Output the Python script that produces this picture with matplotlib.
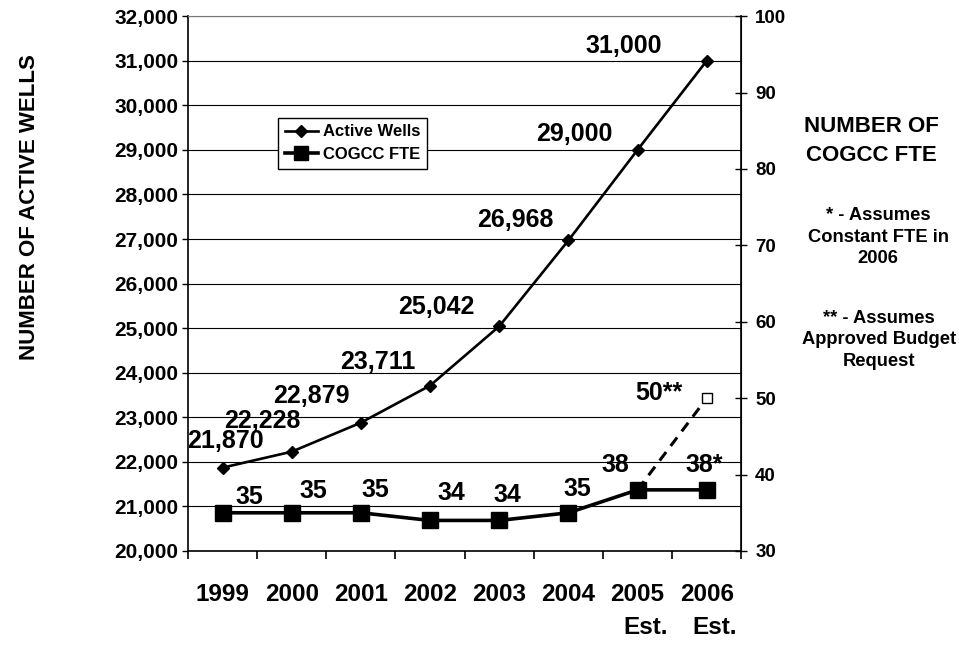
import matplotlib
matplotlib.use("Agg")
import matplotlib.pyplot as plt
from matplotlib.ticker import FuncFormatter, FixedLocator

plt.rcParams['font.family'] = ['Liberation Sans', 'DejaVu Sans']
plt.rcParams['font.weight'] = 'bold'

# ---- data ----
years = ["1999", "2000", "2001", "2002", "2003", "2004", "2005", "2006"]
estimated = [False, False, False, False, False, False, True, True]
active_wells = [21870, 22228, 22879, 23711, 25042, 26968, 29000, 31000]
well_labels = ["21,870", "22,228", "22,879", "23,711", "25,042", "26,968", "29,000", "31,000"]
fte = [35, 35, 35, 34, 34, 35, 38, 38]
fte_labels = ["35", "35", "35", "34", "34", "35", "38", "38*"]
budget_years = ["2005", "2006"]
budget_fte = [38, 50]
budget_label = "50**"

# label offsets in pixels (dx, dy)
well_offsets = [(3, 27), (-29, 31), (-50, 27), (-52, 24), (-63, 19), (-53, 20), (-63, 16), (-83, 15)]
fte_offsets = [(27, 16), (22, 22), (14, 23), (21, 27), (8, 25), (9, 24), (-22, 25), (-2, 25)]
budget_offset = (-48, 5)

fig = plt.figure(figsize=(9.59, 6.47), dpi=100)
ax = fig.add_axes([0.196, 0.1484, 0.773 - 0.196, 0.975 - 0.1484])
ax2 = ax.twinx()

x = list(range(len(years)))
xb = [years.index(y) for y in budget_years]

# horizontal grid on the left scale
ax.set_ylim(20000, 32000)
ax.set_yticks(range(20000, 32001, 1000))
ax.yaxis.set_major_formatter(FuncFormatter(lambda v, p: f"{int(v):,}"))
ax.grid(axis='y', color='black', linewidth=0.8)
ax.set_axisbelow(True)
ax.set_xlim(-0.5, len(years) - 0.5)

ax2.set_ylim(30, 100)
ax2.set_yticks(range(30, 101, 10))

# active wells
ax.plot(x, active_wells, color='black', linewidth=1.9, marker='D', markersize=6.5,
        zorder=3)
for xi, v, lab, (dx, dy) in zip(x, active_wells, well_labels, well_offsets):
    ax.annotate(lab, (xi, v), xytext=(dx, dy), textcoords='offset pixels',
                ha='center', va='center', fontsize=18, fontweight='bold')

# FTE
ax2.plot(xb, budget_fte, color='black', linewidth=2.2, linestyle=(0, (3.5, 2.5)), zorder=2)
ax2.plot([xb[-1]], [budget_fte[-1]], linestyle='none', marker='s', markersize=7,
         markerfacecolor='white', markeredgecolor='black', markeredgewidth=1, zorder=4)
ax2.plot(x, fte, color='black', linewidth=2.6, marker='s', markersize=11.5, zorder=3)
for xi, v, lab, (dx, dy) in zip(x, fte, fte_labels, fte_offsets):
    ax2.annotate(lab, (xi, v), xytext=(dx, dy), textcoords='offset pixels',
                 ha='center', va='center', fontsize=18, fontweight='bold')
ax2.annotate(budget_label, (xb[-1], budget_fte[-1]), xytext=budget_offset,
             textcoords='offset pixels', ha='center', va='center',
             fontsize=18, fontweight='bold')

# legend
h1 = plt.Line2D([], [], color='black', linewidth=1.9, marker='D', markersize=6.5)
h2 = plt.Line2D([], [], color='black', linewidth=2.6, marker='s', markersize=10)
leg = ax2.legend([h1, h2], ["Active Wells", "COGCC FTE"], loc='upper left',
                 bbox_to_anchor=(0.163, 0.81), frameon=True, fancybox=False,
                 edgecolor='black', framealpha=1, prop={'size': 12, 'weight': 'bold'},
                 handlelength=2.0, handletextpad=0.3, borderpad=0.4,
                 labelspacing=0.45, borderaxespad=0)
leg.get_frame().set_linewidth(1.0)
leg.set_zorder(10)

# spines
for a in (ax, ax2):
    a.spines['top'].set_visible(False)
ax.spines['top'].set_visible(True)
ax.spines['top'].set_linestyle((0, (1, 1)))
ax.spines['top'].set_color('#777777')
ax.spines['top'].set_linewidth(0.8)
ax.spines['left'].set_linewidth(1.2)
ax.spines['bottom'].set_linewidth(1.2)
ax2.spines['right'].set_linewidth(1.2)
ax2.spines['left'].set_visible(False)
ax2.spines['bottom'].set_visible(False)

# ticks
ax.tick_params(axis='y', direction='out', length=4, width=1, pad=3, labelsize=15)
for t in ax.get_yticklabels():
    t.set_fontweight('bold')
ax2.tick_params(axis='y', direction='inout', length=8, width=1, pad=6, labelsize=13.5)
for t in ax2.get_yticklabels():
    t.set_fontweight('bold')

ax.set_xticks(x)
ax.set_xticklabels(years, fontsize=17.5, fontweight='bold')
ax.tick_params(axis='x', which='major', length=0, pad=23)
ax.xaxis.set_minor_locator(FixedLocator([i - 0.5 for i in range(len(years) + 1)]))
ax.tick_params(axis='x', which='minor', direction='out', length=6, width=1.2)

for xi, est in zip(x, estimated):
    if est:
        ax.annotate("Est.", (xi, 0), xycoords=ax.get_xaxis_transform(),
                    xytext=(8, -77), textcoords='offset pixels', ha='center',
                    va='center', fontsize=17.5, fontweight='bold')

# axis titles and notes
fig.text(30 / 959, 1 - 207 / 647, "NUMBER OF ACTIVE WELLS", rotation=90,
         ha='center', va='center', fontsize=16, fontweight='bold')
fig.text(871 / 959, 1 - 141 / 647, "NUMBER OF\nCOGCC FTE", ha='center', va='center',
         fontsize=16, fontweight='bold', linespacing=1.5)
fig.text(878 / 959, 1 - 237 / 647, "* - Assumes\nConstant FTE in\n2006", ha='center',
         va='center', fontsize=13.2, fontweight='bold', linespacing=1.35)
fig.text(879 / 959, 1 - 340 / 647, "** - Assumes\nApproved Budget\nRequest", ha='center',
         va='center', fontsize=13.2, fontweight='bold', linespacing=1.35)

fig.savefig("out.png", dpi=100)
